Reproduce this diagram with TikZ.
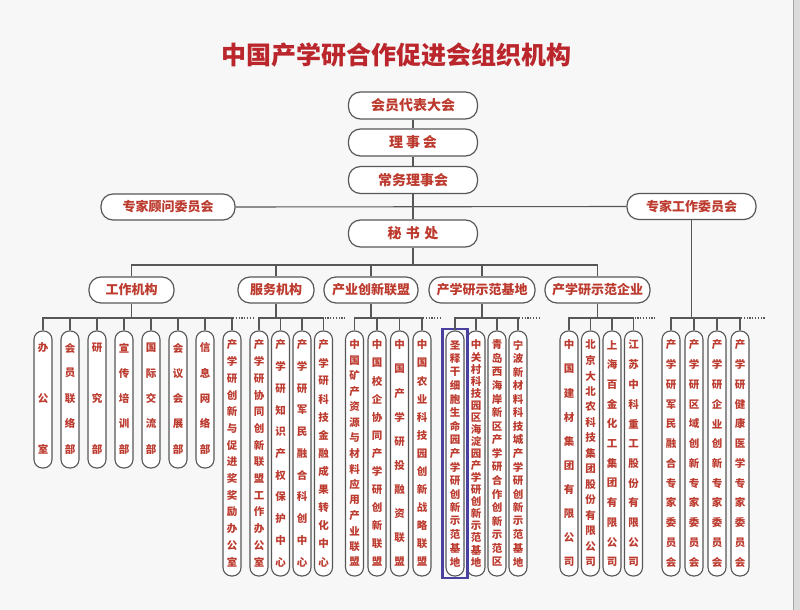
\documentclass[tikz,border=0pt]{standalone}
\usepackage{fontspec}
\setmainfont{Noto Sans CJK SC}
\definecolor{txt}{HTML}{BC3A2E}
\definecolor{edge}{HTML}{575757}
\definecolor{ttl}{HTML}{BA262B}
\definecolor{hl}{HTML}{4A409F}
\tikzset{
  box/.style={draw=edge, line width=1.2pt, rounded corners=12pt, fill=white, text=txt,
    font=\bfseries\fontsize{14}{14}\selectfont, inner sep=0pt, minimum height=27pt},
  lvbox/.style={box, font=\bfseries\fontsize{13}{13}\selectfont, minimum height=26pt},
  pill/.style={draw=edge, line width=1.1pt, rounded corners=8.5pt, fill=white, minimum width=18pt, inner sep=0pt},
  chr/.style={text=txt, font=\bfseries\fontsize{10.5}{10.5}\selectfont, inner sep=0pt},
  conn/.style={draw=edge, line width=1.1pt},
  dotline/.style={draw=edge, line width=1.7pt, dash pattern=on 1.2pt off 1.6pt},
}
\newcommand{\vpill}[7]{%
  \node[pill, minimum height={(#4-#3)*1pt}] (#1) at (#2,{(#3+#4)/2}) {};
  \foreach \cc [count=\i] in {#7} {\xdef\pilln{\i}}
  \foreach \cc [count=\i] in {#7} {
    \pgfmathsetmacro\yy{#5+(\i-1)*(#6-#5)/(\pilln-1)}
    \node[chr] (#1-\i) at (#2,\yy) {\cc};
  }
}
\newcommand{\spill}[3]{\vpill{#1}{#2}{331}{468}{348}{449}{#3}}
\newcommand{\lpill}[3]{\vpill{#1}{#2}{331}{576}{345}{562}{#3}}
\begin{document}
\begin{tikzpicture}[x=1pt,y=-1pt]
\useasboundingbox (0,0) rectangle (800,610);
\fill[white!97!black] (0,0) rectangle (800,610);
\fill[black!14] (793,0) rectangle (800,610);
\draw[black!35, line width=1pt] (793,0) -- (793,610);

\node[font=\bfseries\fontsize{25}{25}\selectfont, text=ttl] (title) at (396,55) {中国产学研合作促进会组织机构};

% top chain
\node[box, minimum width=129pt] (dahui) at (413,105.5) {会员代表大会};
\node[box, minimum width=129pt] (lsh) at (413,142.5) {理\hspace{3pt}事\hspace{3pt}会};
\node[box, minimum width=129pt] (cwlsh) at (413,180) {常务理事会};
\node[box, minimum width=129pt] (msc) at (413,233.5) {秘\hspace{4.5pt}书\hspace{4.5pt}处};
\node[lvbox, minimum width=134pt] (gwh) at (168,207) {专家顾问委员会};
\node[lvbox, minimum width=129pt] (gzh) at (691.5,206.5) {专家工作委员会};

\draw[conn] (dahui) -- (lsh);
\draw[conn] (lsh) -- (cwlsh);
\draw[conn] (cwlsh) -- (msc);
\draw[conn] (gwh.east) -- (gzh.west);

% level 2
\node[lvbox, minimum width=85pt] (g1) at (131.5,290) {工作机构};
\node[lvbox, minimum width=76pt] (g2) at (276,290) {服务机构};
\node[lvbox, minimum width=94pt] (g3) at (371,290) {产业创新联盟};
\node[lvbox, minimum width=106pt] (g4) at (482,290) {产学研示范基地};
\node[lvbox, minimum width=105pt] (g5) at (597.5,290) {产学研示范企业};

\coordinate (busA) at (413,265);
\coordinate (busB) at (0,318);
\draw[conn] (msc.south) -- (busA);
\draw[conn] (g1.north) -- (g1.north |- busA) -- (g5.north |- busA) -- (g5.north);
\foreach \g in {g2,g3,g4} \draw[conn] (\g.north) -- (\g.north |- busA);

% group 1
\spill{a1}{43}{办,公,室}
\spill{a2}{70}{会,员,联,络,部}
\spill{a3}{97}{研,究,部}
\spill{a4}{124}{宣,传,培,训,部}
\spill{a5}{151}{国,际,交,流,部}
\spill{a6}{178}{会,议,会,展,部}
\spill{a7}{205}{信,息,网,络,部}
\lpill{a8}{232}{产,学,研,创,新,与,促,进,奖,奖,励,办,公,室}
% group 2
\lpill{b1}{259}{产,学,研,协,同,创,新,联,盟,工,作,办,公,室}
\lpill{b2}{280.5}{产,学,研,知,识,产,权,保,护,中,心}
\lpill{b3}{302}{产,学,研,军,民,融,合,科,创,中,心}
\lpill{b4}{323.5}{产,学,研,科,技,金,融,成,果,转,化,中,心}
% group 3
\lpill{c1}{354.5}{中,国,矿,产,资,源,与,材,料,应,用,产,业,联,盟}
\lpill{c2}{377}{中,国,校,企,协,同,产,学,研,创,新,联,盟}
\lpill{c3}{399.5}{中,国,产,学,研,投,融,资,联,盟}
\lpill{c4}{422}{中,国,农,业,科,技,园,创,新,战,略,联,盟}
% group 4
\lpill{d1}{455}{圣,释,干,细,胞,生,命,园,产,学,研,创,新,示,范,基,地}
\lpill{d2}{476}{中,关,村,科,技,园,区,海,淀,园,产,学,研,创,新,示,范,基,地}
\lpill{d3}{497}{青,岛,西,海,岸,新,区,产,学,研,合,作,创,新,示,范,区}
\lpill{d4}{518}{宁,波,新,材,料,科,技,城,产,学,研,创,新,示,范,基,地}
\node[draw=hl, line width=2.6pt, minimum width=25pt, minimum height=249pt, inner sep=0pt] (hlbox) at (d1) {};
% group 5
\lpill{e1}{569}{中,国,建,材,集,团,有,限,公,司}
\lpill{e2}{590.5}{北,京,大,北,农,科,技,集,团,股,份,有,限,公,司}
\lpill{e3}{612}{上,海,百,金,化,工,集,团,有,限,公,司}
\lpill{e4}{633.5}{江,苏,中,科,重,工,股,份,有,限,公,司}
% group 6
\lpill{f1}{671}{产,学,研,军,民,融,合,专,家,委,员,会}
\lpill{f2}{694}{产,学,研,区,域,创,新,专,家,委,员,会}
\lpill{f3}{717}{产,学,研,企,业,创,新,专,家,委,员,会}
\lpill{f4}{740}{产,学,研,健,康,医,学,专,家,委,员,会}

% group buses
\draw[conn] (a1.north) -- (a1.north |- busB) -- (a8.north |- busB) -- (a8.north);
\foreach \p in {a2,a3,a4,a5,a6,a7} \draw[conn] (\p.north) -- (\p.north |- busB);
\draw[conn] (g1.south) -- (g1.south |- busB);
\draw[dotline] ([xshift=1pt]a8.north |- busB) -- ++(20,0);

\draw[conn] (b1.north) -- (b1.north |- busB) -- (b4.north |- busB) -- (b4.north);
\foreach \p in {b2,b3} \draw[conn] (\p.north) -- (\p.north |- busB);
\draw[conn] (g2.south) -- (g2.south |- busB);
\draw[dotline] ([xshift=1pt]b4.north |- busB) -- ++(21,0);

\draw[conn] (c1.north) -- (c1.north |- busB) -- (c4.north |- busB) -- (c4.north);
\foreach \p in {c2,c3} \draw[conn] (\p.north) -- (\p.north |- busB);
\draw[conn] (g3.south) -- (g3.south |- busB);
\draw[dotline] ([xshift=1pt]c4.north |- busB) -- ++(17,0);

\draw[conn] (d1.north) -- (d1.north |- busB) -- (d4.north |- busB) -- (d4.north);
\foreach \p in {d2,d3} \draw[conn] (\p.north) -- (\p.north |- busB);
\draw[conn] (g4.south) -- (g4.south |- busB);
\draw[dotline] ([xshift=1pt]d4.north |- busB) -- ++(22,0);

\draw[conn] (e1.north) -- (e1.north |- busB) -- (e4.north |- busB) -- (e4.north);
\foreach \p in {e2,e3} \draw[conn] (\p.north) -- (\p.north |- busB);
\draw[conn] (g5.south) -- (g5.south |- busB);
\draw[dotline] ([xshift=1pt]e4.north |- busB) -- ++(20,0);

\draw[conn] (f1.north) -- (f1.north |- busB) -- (f4.north |- busB) -- (f4.north);
\foreach \p in {f2,f3} \draw[conn] (\p.north) -- (\p.north |- busB);
\draw[conn] (gzh.south) -- (gzh.south |- busB);
\draw[dotline] ([xshift=1pt]f4.north |- busB) -- ++(25,0);
\end{tikzpicture}
\end{document}
